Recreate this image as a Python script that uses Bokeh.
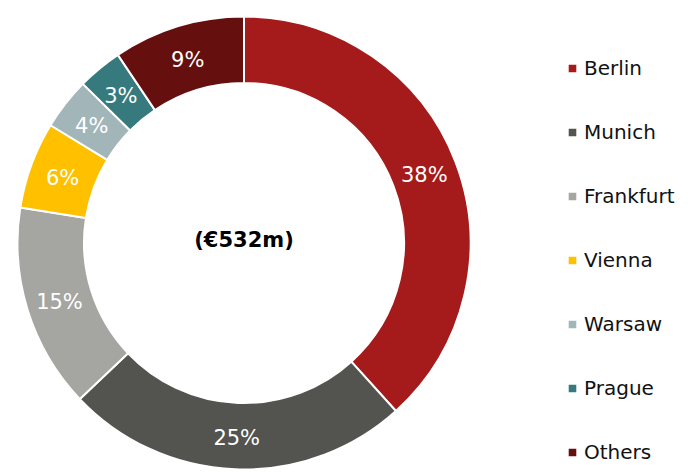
import math
from bokeh.plotting import figure
from bokeh.models import ColumnDataSource, Range1d, Legend, LegendItem
from bokeh.core.properties import value
from bokeh.embed import file_html
from bokeh.resources import INLINE

cities = ["Berlin", "Munich", "Frankfurt", "Vienna", "Warsaw", "Prague", "Others"]
shares = [38.3, 24.6, 14.6, 6.2, 3.7, 3.2, 9.4]
pct_labels = ["38%", "25%", "15%", "6%", "4%", "3%", "9%"]
colors = ["#A51A1A", "#53534F", "#A5A5A1", "#FFC000", "#A2B5B9", "#367A7D", "#650F0F"]
center_label = "(€532m)"

W, H = 692, 476
cx, cy = 243.5, 233.5
r_in, r_out = 160, 226.5

total = sum(shares)
starts, ends, lx, ly = [], [], [], []
cum = 0.0
for s in shares:
    a0 = math.pi / 2 - 2 * math.pi * cum / total
    a1 = math.pi / 2 - 2 * math.pi * (cum + s) / total
    starts.append(a0)
    ends.append(a1)
    mid = (a0 + a1) / 2
    rm = (r_in + r_out) / 2
    lx.append(cx + rm * math.cos(mid))
    ly.append(cy + rm * math.sin(mid) - 1.5)
    cum += s

src = ColumnDataSource(dict(city=cities, start=starts, end=ends, color=colors,
                            lx=lx, ly=ly, label=pct_labels))

p = figure(width=W, height=H, output_backend="svg", toolbar_location=None,
           x_range=Range1d(0, W), y_range=Range1d(0, H),
           min_border=0, outline_line_color=None)
p.axis.visible = False
p.grid.visible = False

r = p.annular_wedge(x=cx, y=cy, inner_radius=r_in, outer_radius=r_out,
                    start_angle="start", end_angle="end", direction="clock",
                    fill_color="color", line_color="white", line_width=2, source=src)

p.text(x="lx", y="ly", text="label", source=src, text_color="white",
       text_font=value("DejaVu Sans"), text_font_size="21px",
       text_align="center", text_baseline="middle")

p.text(x=[cx], y=[cy + 3], text=[center_label], text_color="black",
       text_font=value("DejaVu Sans"), text_font_size="21px", text_font_style="bold",
       text_align="center", text_baseline="middle")

items = [LegendItem(label=c, renderers=[r], index=i) for i, c in enumerate(cities)]
legend = Legend(items=items, location=(566, 12), orientation="vertical",
                border_line_color=None, background_fill_alpha=0,
                padding=0, margin=0, spacing=40,
                glyph_width=12, glyph_height=12, label_standoff=6,
                label_text_font="DejaVu Sans", label_text_font_size="20px",
                label_text_color="#111111")
p.add_layout(legend, "center")

open("out.html", "w").write(file_html(p, INLINE))
